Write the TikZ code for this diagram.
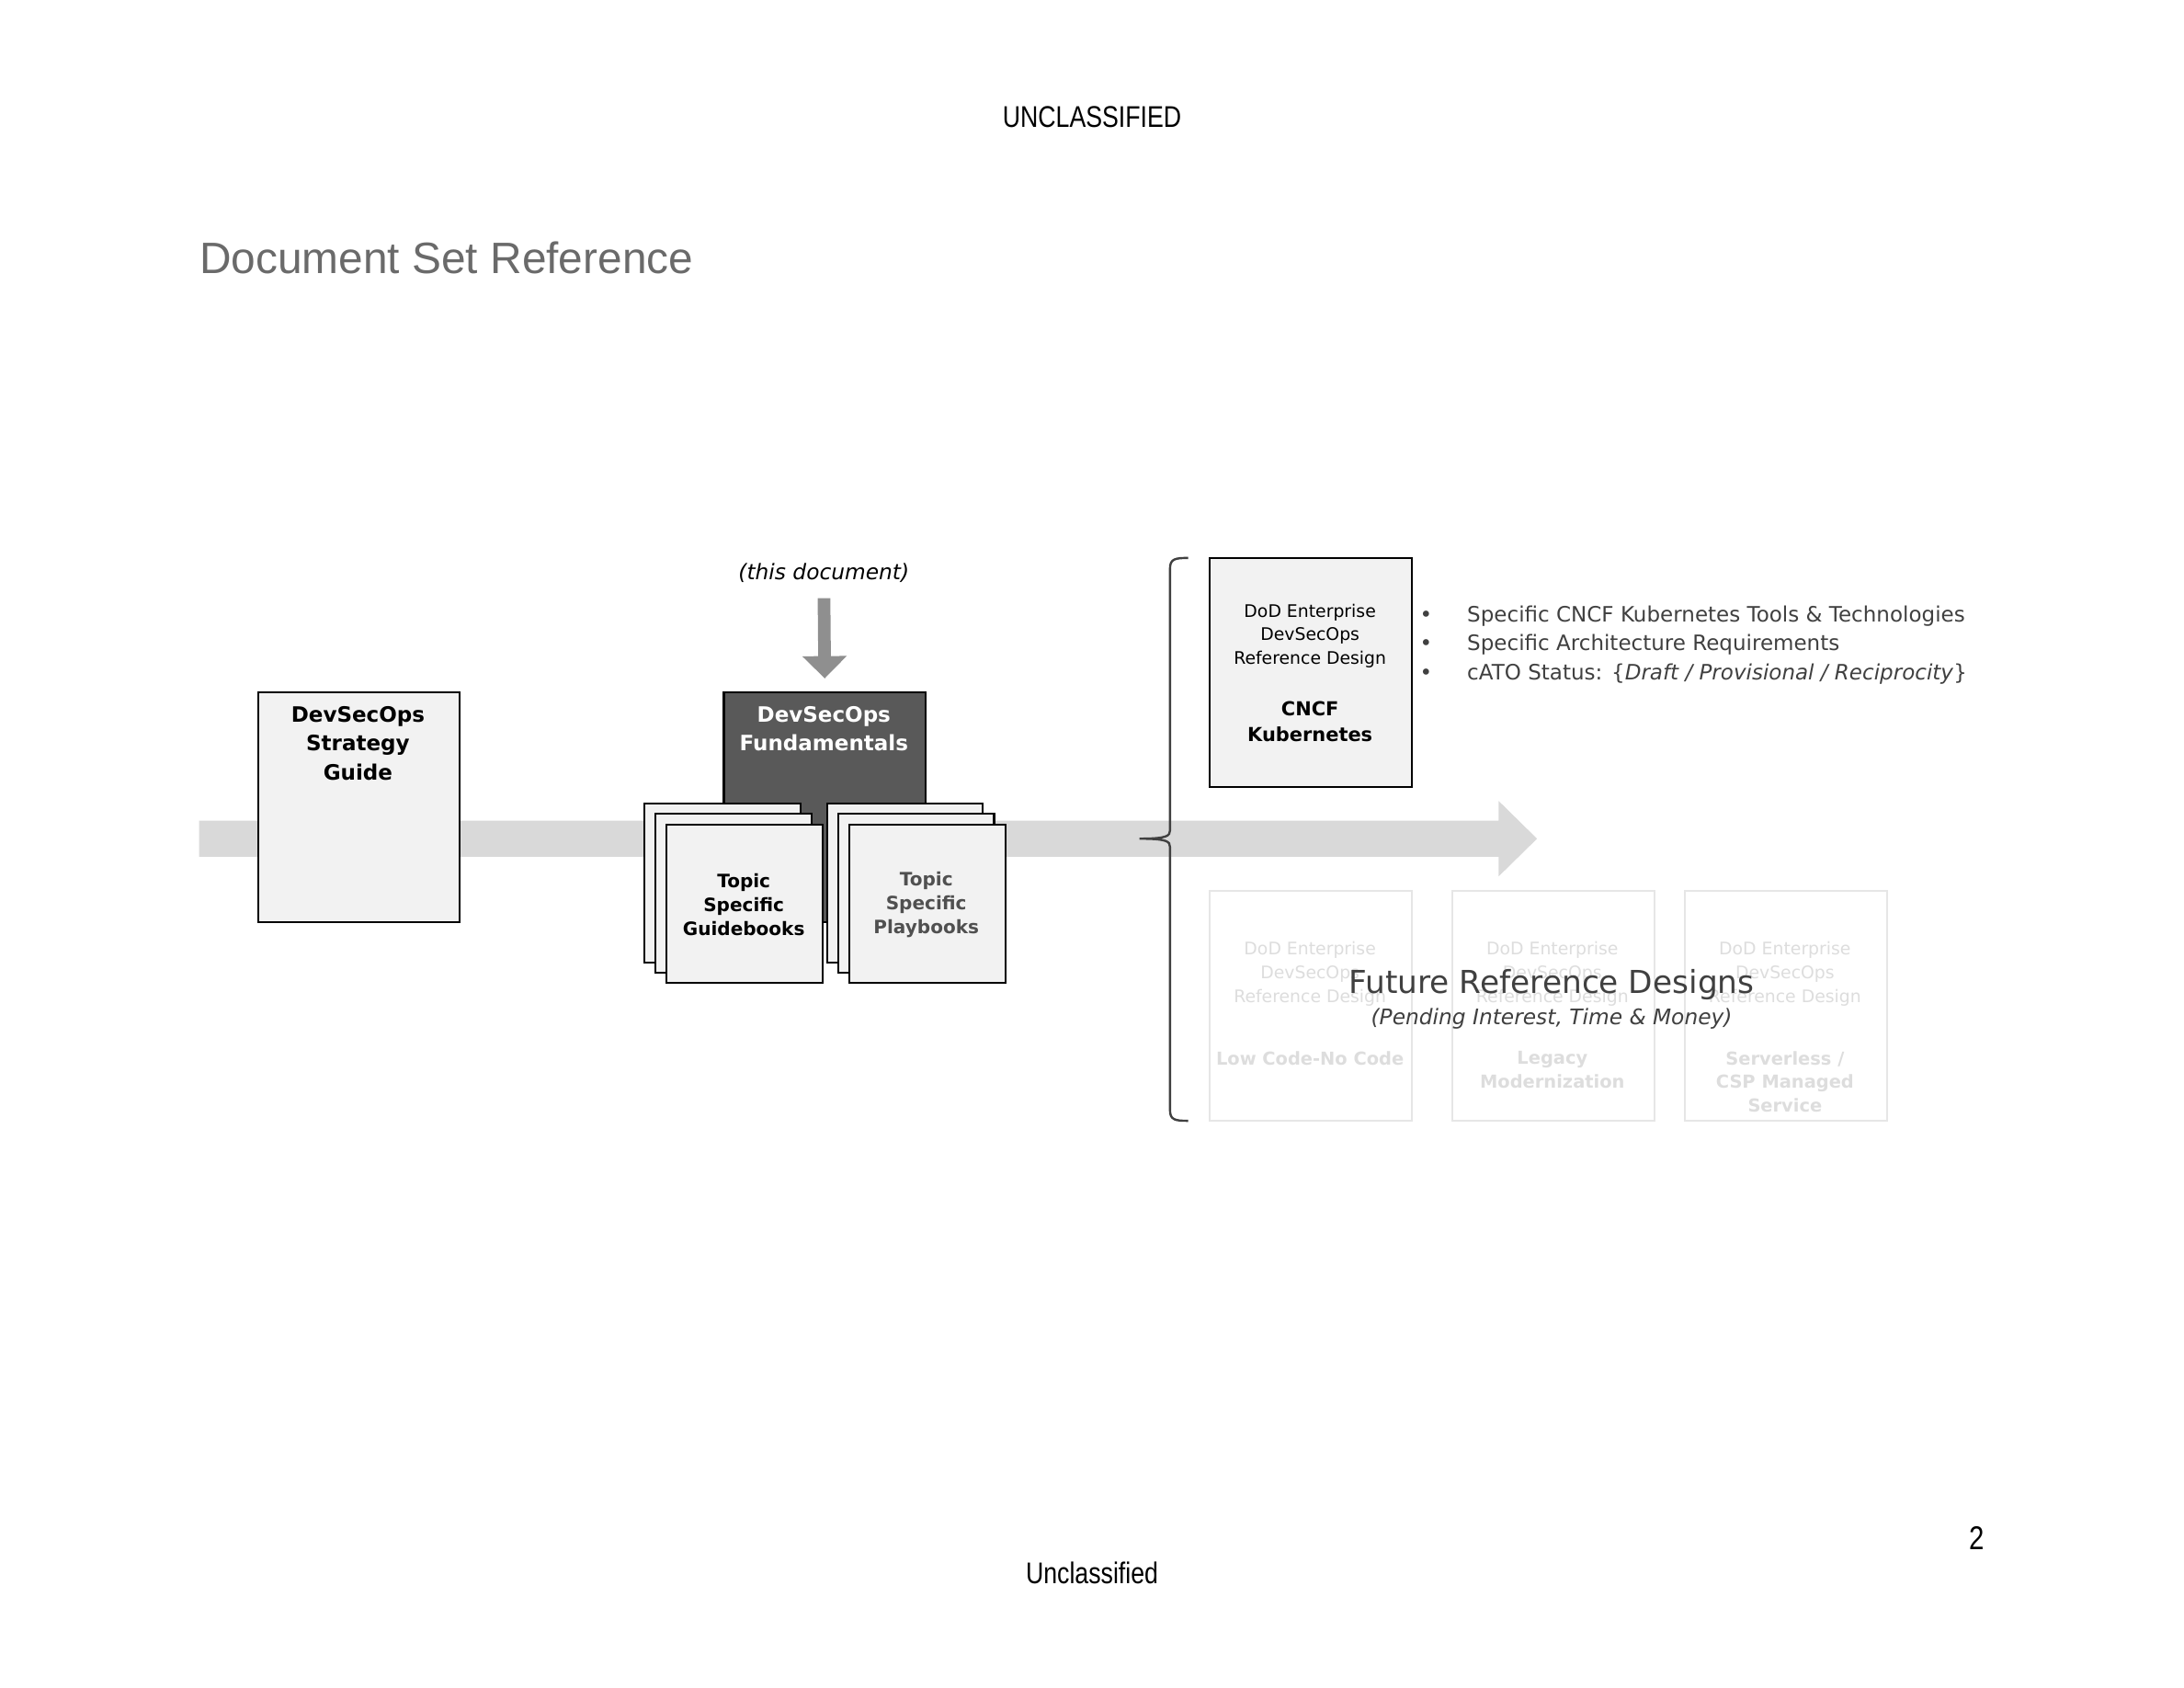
\documentclass[tikz,border=0pt]{standalone}
\usepackage{fontspec}
\setmainfont{DejaVu Sans}
\newfontfamily\arialfont{Liberation Sans}
\newfontfamily\narrowfont[FakeStretch=0.82]{Liberation Sans}
\usetikzlibrary{arrows.meta}
\newlength{\px}
\setlength{\px}{0.507pt}
\definecolor{boxgray}{HTML}{F2F2F2}
\definecolor{fundgray}{HTML}{595959}
\definecolor{bandgray}{HTML}{D9D9D9}
\definecolor{arrowgray}{HTML}{8F8F8F}
\definecolor{txtgray}{HTML}{404040}
\definecolor{playgray}{HTML}{505050}
\definecolor{titlegray}{HTML}{6A6A6A}
\definecolor{ghosttext}{HTML}{DDDDDD}
\definecolor{ghostline}{HTML}{E6E6E6}

\begin{document}
\begin{tikzpicture}[x=\px, y=-\px]
\tikzstyle{docbox} = [rectangle, draw=black, line width=0.7pt, fill=boxgray, anchor=north west, inner sep=0pt, minimum width=144\px, minimum height=165\px]
\tikzstyle{darkbox} = [docbox, fill=fundgray, minimum width=145\px]
\tikzstyle{sheet} = [docbox, minimum width=112\px, minimum height=114\px]
\tikzstyle{ghostbox} = [docbox, draw=ghostline, fill=white, minimum width=145\px]
\tikzstyle{boldtext} = [align=center, inner sep=0pt, font=\bfseries\fontsize{7.7}{10.6}\selectfont]
\tikzstyle{sheettext} = [align=center, inner sep=0pt, font=\bfseries\fontsize{6.7}{8.6}\selectfont]
\tikzstyle{smalltext} = [align=center, inner sep=0pt, font=\fontsize{6.3}{8.6}\selectfont]
\tikzstyle{kubetext} = [align=center, inner sep=0pt, font=\bfseries\fontsize{7}{9.6}\selectfont]
\tikzstyle{ghostname} = [align=center, inner sep=0pt, text=ghosttext, font=\bfseries\fontsize{6.5}{8.6}\selectfont]
\tikzstyle{marktext} = [inner sep=0pt, font=\narrowfont\fontsize{10.9}{13}\selectfont]
\tikzstyle{docarrow} = [line width=4.6pt, line cap=butt, draw=arrowgray, -{Triangle[width=15.7pt, length=8.1pt]}]
\tikzstyle{bracket} = [line width=0.8pt, draw=txtgray]

\fill[white] (0,0) rectangle (1568,1211.6);
\useasboundingbox (0,0) rectangle (1568,1211.6);

%band
\fill[bandgray] (143,589) -- (1076,589) -- (1076,575) -- (1103.5,602) -- (1076,629) -- (1076,615) -- (143,615) -- cycle;

%boxes
\node (guide) [docbox] at (185,496) {};
\node (fund) [darkbox] at (519,496) {};
\node (gb3) [sheet] at (462,576) {};
\node (gb2) [sheet] at (470,583.5) {};
\node (gb1) [sheet] at (478,591) {};
\node (pb3) [sheet] at (593,576) {};
\node (pb2) [sheet] at (601,583.5) {};
\node (pb1) [sheet] at (609,591) {};
\node (cncf) [docbox, minimum width=145\px, minimum height=164\px] at (868,400) {};
\node (lowcode) [ghostbox] at (868,639) {};
\node (legacy) [ghostbox] at (1042,639) {};
\node (serverless) [ghostbox] at (1209,639) {};

%texts
\node (title) [anchor=west, inner sep=0pt, text=titlegray, font=\arialfont\fontsize{16}{19}\selectfont] at (143,185) {Document Set Reference};
\node (topmark) [marktext] at (784,84) {UNCLASSIFIED};
\node (botmark) [marktext] at (784,1129) {Unclassified};
\node (pagenum) [marktext, font=\narrowfont\fontsize{12}{14}\selectfont] at (1419,1104) {2};

\node (guidetxt) [boldtext] at (257,533.5) {DevSecOps\\Strategy\\Guide};
\node (fundtxt) [boldtext, text=white] at (591.5,523) {DevSecOps\\Fundamentals};
\node (thisdoc) [inner sep=0pt, font=\itshape\fontsize{7.8}{9}\selectfont] at (591.5,411.5) {(this document)};
\node (gbtxt) [sheettext] at (534,649.5) {Topic\\Specific\\Guidebooks};
\node (pbtxt) [sheettext, text=playgray] at (665,649.5) {Topic\\Specific\\Playbooks};

\node (rdtxt) [smalltext] at (940.5,456.5) {DoD Enterprise\\DevSecOps\\Reference Design};
\node (cncftxt) [kubetext] at (940.5,518) {CNCF\\Kubernetes};
\node (bullets) [anchor=west, align=left, inner sep=0pt, text=txtgray, font=\fontsize{7.7}{10.4}\selectfont] at (1019,463)
{\makebox[34\px][l]{•}Specific CNCF Kubernetes Tools \& Technologies\\
\makebox[34\px][l]{•}Specific Architecture Requirements\\
\makebox[34\px][l]{•}cATO Status: \{\textit{Draft / Provisional / Reciprocity}\}};

\node (rdlow) [smalltext, text=ghosttext] at (940.5,699) {DoD Enterprise\\DevSecOps\\Reference Design};
\node (rdlegacy) [smalltext, text=ghosttext] at (1114.5,699) {DoD Enterprise\\DevSecOps\\Reference Design};
\node (rdserver) [smalltext, text=ghosttext] at (1281.5,699) {DoD Enterprise\\DevSecOps\\Reference Design};
\node (lowtxt) [ghostname] at (940.5,759.5) {Low Code-No Code};
\node (legacytxt) [ghostname] at (1114.5,768) {Legacy\\Modernization};
\node (servertxt) [ghostname] at (1281.5,776.5) {Serverless /\\CSP Managed\\Service};

\node (future) [inner sep=0pt, text=txtgray, font=\fontsize{11.5}{13}\selectfont] at (1114,707) {Future Reference Designs};
\node (pending) [inner sep=0pt, text=txtgray, font=\itshape\fontsize{7.8}{9}\selectfont] at (1114,731) {(Pending Interest, Time \& Money)};

%lines
\draw [docarrow, shorten <=5.4pt, shorten >=4.6pt] (thisdoc.south) -- (fund.north);
\draw [bracket] (853,400.5) .. controls (844,400.5) and (840,401) .. (840,408) -- (840,596)
  .. controls (840,600) and (838,602) .. (818,602)
  .. controls (838,602) and (840,604) .. (840,608) -- (840,797)
  .. controls (840,804) and (844,804.5) .. (853,804.5);

\end{tikzpicture}
\end{document}
